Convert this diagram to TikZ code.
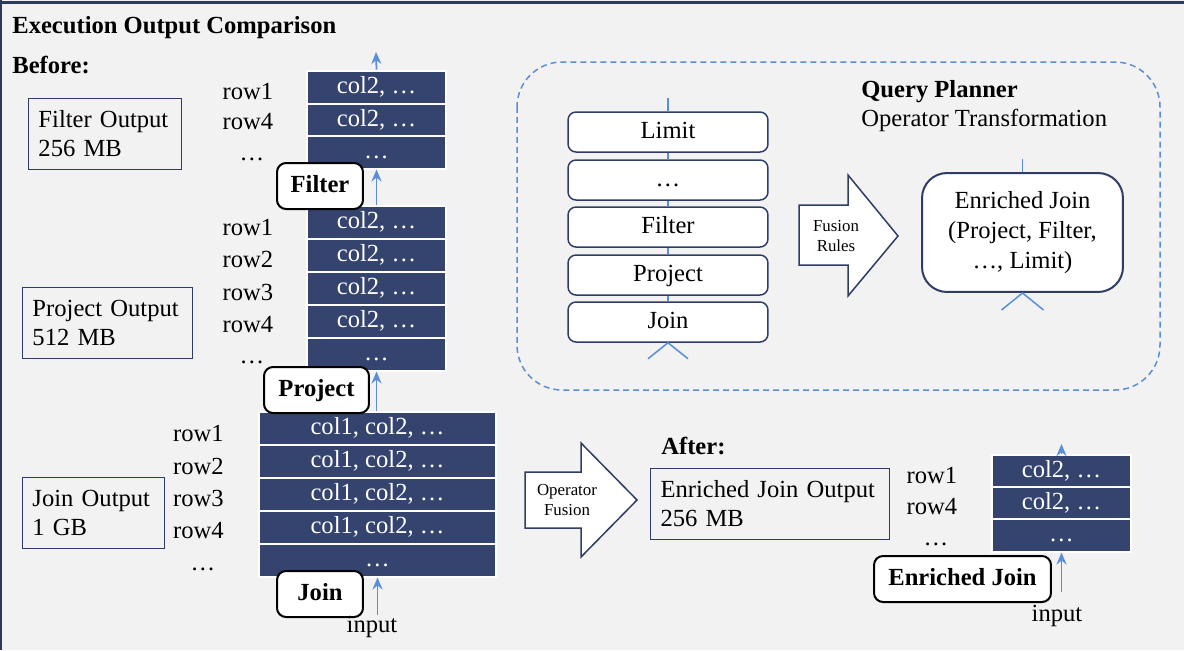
\documentclass[tikz,border=0pt]{standalone}
\usepackage{fontspec}
\setmainfont{Liberation Serif}
\usetikzlibrary{arrows.meta}
\definecolor{paper}{HTML}{F2F2F2}
\definecolor{frame}{HTML}{2D3A5C}
\definecolor{cellnavy}{HTML}{34446F}
\definecolor{boxnavy}{HTML}{2F3D66}
\definecolor{flowblue}{HTML}{5B8ED6}
\newcommand\picfont{\fontsize{14}{16.5}\selectfont}
\newcommand\smallfont{\fontsize{9.6}{11.3}\selectfont}
\begin{document}
\begin{tikzpicture}[x=0.02cm, y=-0.02cm,
    every node/.style={font=\picfont, inner sep=0pt},
    oneline/.style={text height=3.4mm, text depth=1mm},
    head/.style={oneline, anchor=west, font=\picfont\bfseries},
    cell/.style={oneline, rectangle, fill=cellnavy, draw=white, line width=0.4mm, text=white, minimum width=27.8mm, minimum height=6.6mm},
    widecell/.style={cell, minimum width=47.4mm},
    op/.style={oneline, rectangle, rounded corners=1.8mm, draw=black, line width=0.4mm, fill=white, minimum height=9.2mm, font=\picfont\bfseries},
    info/.style={rectangle, draw=boxnavy, line width=0.2mm, align=left, minimum height=14.2mm, inner xsep=2mm, anchor=north west},
    flow/.style={draw=flowblue, line width=0.35mm, -{Stealth[length=2.4mm, width=2mm]}},
    link/.style={draw=flowblue, line width=0.3mm},
    stage/.style={oneline, rectangle, rounded corners=1.6mm, draw=boxnavy, line width=0.3mm, fill=white, minimum width=40mm, minimum height=8mm},
    fusion/.style={draw=boxnavy, line width=0.3mm, fill=white, line join=miter},
    small/.style={font=\smallfont, align=center}
  ]
  \useasboundingbox[fill=paper] (0,0) rectangle (1184,650);
  \draw[frame, line width=0.6mm] (0,2) -- (1184,2);
  \draw[frame, line width=0.5mm] (1,0) -- (1,650);

  \node[head] (title) at (12,27) {Execution Output Comparison};
  \node[head] (before) at (12,67) {Before:};

  % filter output
  \node[info, text width=26.6mm] (fo) at (28,98) {Filter Output\\256 MB};
  \node[cell] (f1) at (376.5,87) {col2, …};
  \node[cell] (f2) at (376.5,120) {col2, …};
  \node[cell] (f3) at (376.5,152) {…};
  \node[oneline] (fr1) at (248,93) {row1};
  \node[oneline] (fr4) at (248,123.5) {row4};
  \node[oneline] (fr5) at (252,154) {…};

  % project output
  \node[info, text width=30mm] (po) at (22,287) {Project Output\\512 MB};
  \node[cell] (p1) at (376.5,222) {col2, …};
  \node[cell] (p2) at (376.5,255) {col2, …};
  \node[cell] (p3) at (376.5,288) {col2, …};
  \node[cell] (p4) at (376.5,321) {col2, …};
  \node[cell] (p5) at (376.5,354) {…};
  \node[oneline] (pr1) at (248,229) {row1};
  \node[oneline] (pr2) at (248,261) {row2};
  \node[oneline] (pr3) at (248,294) {row3};
  \node[oneline] (pr4) at (248,326) {row4};
  \node[oneline] (pr5) at (252,357) {…};

  % join output
  \node[info, text width=24.4mm] (jo) at (22,477) {Join Output\\1 GB};
  \node[widecell] (j1) at (377.5,428) {col1, col2, …};
  \node[widecell] (j2) at (377.5,461) {col1, col2, …};
  \node[widecell] (j3) at (377.5,494) {col1, col2, …};
  \node[widecell] (j4) at (377.5,527) {col1, col2, …};
  \node[widecell] (j5) at (377.5,560) {…};
  \node[oneline] (jr1) at (198.5,435.5) {row1};
  \node[oneline] (jr2) at (198.5,468) {row2};
  \node[oneline] (jr3) at (198.5,500) {row3};
  \node[oneline] (jr4) at (198.5,532) {row4};
  \node[oneline] (jr5) at (203,564) {…};

  \node[op, minimum width=17.2mm] (fop) at (320,186) {Filter};
  \node[op, minimum width=21mm] (pop) at (316.5,390) {Project};
  \node[op, minimum width=17.2mm] (jop) at (320,594) {Join};
  \node[oneline] (jin) at (372,626) {input};
  \coordinate (fout) at (376,52);
  \draw[flow] (f1.north) -- (fout);
  \draw[flow] (p1.north) -- (f3.south);
  \draw[flow] (j1.north -| p5.south) -- (p5.south);
  \draw[flow] (jin.north -| j5.south) -- (j5.south);

  % operator fusion arrow
  \draw[fusion] (525,472) -- (581,472) -- (581,443) -- (637,500) -- (581,557) -- (581,528) -- (525,528) -- cycle;
  \node[small] (ofu) at (567,500) {Operator\\Fusion};

  % query planner
  \draw[link, dash pattern=on 1.2mm off 0.8mm, rounded corners=9mm] (517,62) rectangle (1160,390);
  \node[head] (qp) at (861,91) {Query Planner};
  \node[oneline, anchor=west] (ot) at (861,120) {Operator Transformation};
  \node[stage] (s1) at (668,132) {Limit};
  \node[stage] (s2) at (668,180) {…};
  \node[stage] (s3) at (668,227) {Filter};
  \node[stage] (s4) at (668,275) {Project};
  \node[stage] (s5) at (668,322) {Join};
  \coordinate (stop) at (668,98);
  \draw[link] (stop) -- (s1.north);
  \draw[link] (s1) -- (s2) -- (s3) -- (s4) -- (s5);
  \draw[link] (s5.south) ++(-20,16) -- (s5.south) -- ++(20,16);

  \draw[fusion] (799,205) -- (848,205) -- (848,175) -- (898,236) -- (848,296) -- (848,265) -- (799,265) -- cycle;
  \node[small] (fru) at (836,236) {Fusion\\Rules};

  \node[rectangle, rounded corners=5mm, draw=boxnavy, line width=0.4mm, fill=white, minimum width=40.2mm, minimum height=23.8mm, align=center, font=\fontsize{14}{17}\selectfont] (ej) at (1022.5,232.5) {Enriched Join\\(Project, Filter,\\…, Limit)};
  \coordinate (etop) at (1022.5,159);
  \draw[link] (etop) -- (ej.north);
  \draw[link] (ej.south) ++(-21,17) -- (ej.south) -- ++(21,17);

  % after
  \node[head] (after) at (661,448) {After:};
  \node[info, text width=43.8mm] (eo) at (650,468) {Enriched Join Output\\256 MB};
  \node[cell] (e1) at (1061.5,471) {col2, …};
  \node[cell] (e2) at (1061.5,503) {col2, …};
  \node[cell] (e3) at (1061.5,535) {…};
  \node[oneline] (er1) at (932,477) {row1};
  \node[oneline] (er4) at (932,508) {row4};
  \node[oneline] (er5) at (936,539) {…};
  \node[op, minimum width=35.4mm] (eop) at (962.5,579) {Enriched Join};
  \node[oneline] (ein) at (1057,615) {input};
  \coordinate (eout) at (1061.5,444);
  \coordinate (estart) at (1061.5,592);
  \draw[flow] (e1.north) -- (eout);
  \draw[flow] (estart) -- (e3.south);
\end{tikzpicture}
\end{document}
